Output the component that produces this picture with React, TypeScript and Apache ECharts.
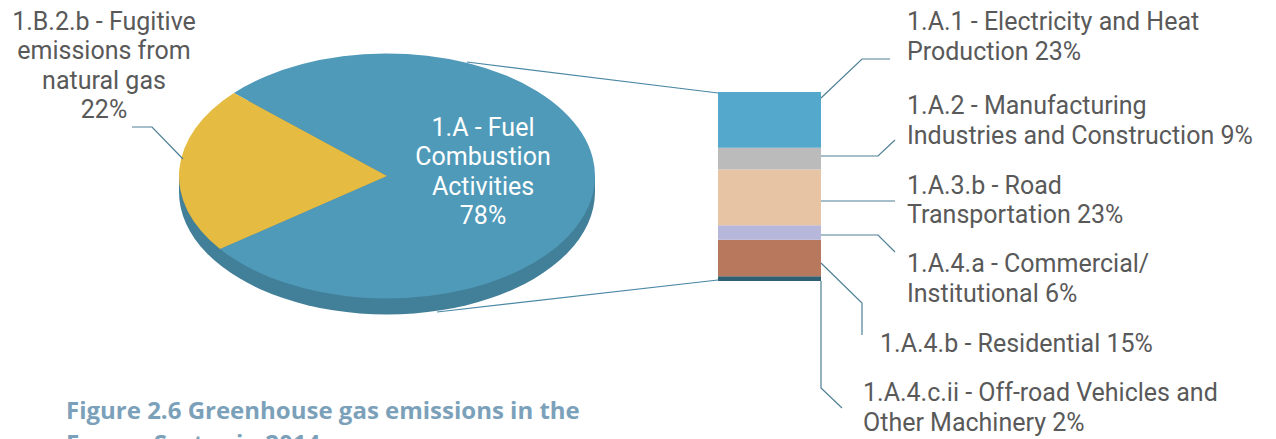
import React, { useEffect, useRef } from "react";
import * as echarts from "echarts";

// Top-level split of energy-sector emissions (pie)
const MAIN_NAMES = ["1.A - Fuel\nCombustion\nActivities", "1.B.2.b - Fugitive\nemissions from\nnatural gas"];
const MAIN_SHARES = [78, 22];
const MAIN_COLORS = ["#4F9AB9", "#E6BB42"];

// Breakdown of 1.A fuel combustion (stacked column), top to bottom
const SUB_NAMES = [
  "1.A.1 - Electricity and Heat\nProduction",
  "1.A.2 - Manufacturing\nIndustries and Construction",
  "1.A.3.b - Road\nTransportation",
  "1.A.4.a - Commercial/\nInstitutional",
  "1.A.4.b - Residential",
  "1.A.4.c.ii - Off-road Vehicles and\nOther Machinery",
];
const SUB_SHARES = [23, 9, 23, 6, 15, 2];
const SUB_COLORS = ["#54A8CC", "#BBBBBB", "#E6C4A4", "#B7B7DC", "#B8785E", "#2F5F72"];

const TITLE = "Figure 2.6 Greenhouse gas emissions in the\nEnergy Sector in 2014";

// pie geometry
const CX = 387;
const CY = 176;
const RX = 208;
const RY = 122.5;
const DEPTH = 16;
const START_DEG = 222.6;
const K = RY / RX;

const FONT = "Roboto, 'Open Sans', sans-serif";
const TITLE_FONT = "'Open Sans', 'Noto Sans', sans-serif";
const TEXT_COLOR = "#595959";
const LEADER = "#4F7F95";

export default function App() {
  const ref = useRef<HTMLDivElement>(null);

  useEffect(() => {
    if (!ref.current) return;
    const chart = echarts.init(ref.current, undefined, { renderer: "svg" });

    const mainTotal = MAIN_SHARES.reduce((a, b) => a + b, 0);
    const subTotal = SUB_SHARES.reduce((a, b) => a + b, 0);

    // stacked from the bottom up
    const order = SUB_SHARES.map((_, i) => SUB_SHARES.length - 1 - i);
    const barSeries = order.map((i) => ({
      type: "bar",
      name: SUB_NAMES[i],
      stack: "combustion",
      data: [SUB_SHARES[i]],
      barWidth: "100%",
      itemStyle: { color: SUB_COLORS[i] },
      silent: true,
    }));

    const pieSeries = {
      type: "custom",
      coordinateSystem: "none",
      silent: true,
      data: MAIN_SHARES.map((v, i) => [i, v]),
      renderItem: (params: any, api: any) => {
        const idx = params.dataIndex;
        const before = MAIN_SHARES.slice(0, idx).reduce((a, b) => a + b, 0);
        const a0 = ((START_DEG + (before / mainTotal) * 360) * Math.PI) / 180;
        const a1 = a0 + ((api.value(1) / mainTotal) * 360 * Math.PI) / 180;
        const children: any[] = [];
        if (idx === 0) {
          // side wall of the disc
          const off = DEPTH / K;
          children.push({
            type: "rect",
            shape: { x: -RX, y: 0, width: 2 * RX, height: off },
            style: { fill: "#427F99" },
          });
          children.push({
            type: "circle",
            shape: { cx: 0, cy: off, r: RX },
            style: { fill: "#427F99" },
          });
        }
        children.push({
          type: "sector",
          shape: { cx: 0, cy: 0, r0: 0, r: RX, startAngle: a0, endAngle: a1, clockwise: true },
          style: { fill: MAIN_COLORS[idx] },
        });
        return { type: "group", x: CX, y: CY, scaleX: 1, scaleY: K, children };
      },
    };

    const text = (x: number, y: number, str: string, extra: any = {}) => ({
      type: "text",
      x,
      y,
      z: 100,
      silent: true,
      style: {
        text: str,
        fontFamily: FONT,
        fontSize: 25,
        lineHeight: 29.5,
        fill: TEXT_COLOR,
        align: "left",
        verticalAlign: "middle",
        ...extra,
      },
    });

    const line = (pts: number[][], color = LEADER) => ({
      type: "polyline",
      z: 100,
      silent: true,
      shape: { points: pts },
      style: { stroke: color, lineWidth: 1.2, fill: null },
    });

    const subLabel = (i: number) => `${SUB_NAMES[i]} ${SUB_SHARES[i]}%`;

    const graphics: any[] = [
      // pie to column connectors
      line([[467, 62], [718, 93]], "#4A88A5"),
      line([[437, 312], [718, 280]], "#4A88A5"),
      // column leaders
      line([[821, 98], [862, 59], [890, 59]]),
      line([[821, 156], [878, 156], [895, 140]]),
      line([[821, 201], [895, 201]]),
      line([[821, 235], [878, 235], [895, 252]]),
      line([[821, 263], [862, 303], [862, 335]]),
      line([[821, 281], [821, 388], [842, 408]]),
      // pie leader
      line([[132, 127], [152, 127], [183, 159]]),
      // labels
      text(907, 36.5, subLabel(0)),
      text(907, 120.5, subLabel(1)),
      text(907, 200, subLabel(2)),
      text(907, 278.5, subLabel(3)),
      text(880, 343, subLabel(4)),
      text(863, 407.5, subLabel(5)),
      text(104, 65.5, `${MAIN_NAMES[1]}\n${MAIN_SHARES[1]}%`, { align: "center" }),
      text(483, 171.5, `${MAIN_NAMES[0]}\n${MAIN_SHARES[0]}%`, { align: "center", fill: "#FFFFFF" }),
      text(66, 393, TITLE, {
        verticalAlign: "top",
        fontFamily: TITLE_FONT,
        fontWeight: "bold",
        fontSize: 24,
        lineHeight: 33,
        fill: "#7BA1BA",
      }),
    ];

    chart.setOption({
      animation: false,
      grid: { left: 718, top: 92, width: 103, height: 189 },
      xAxis: { type: "category", data: ["1.A"], show: false },
      yAxis: { type: "value", min: 0, max: subTotal, show: false },
      series: [pieSeries, ...barSeries],
      graphic: graphics,
    });

    return () => chart.dispose();
  }, []);

  return (
    <div
      ref={ref}
      style={{ position: "absolute", left: 0, top: 0, width: 1276, height: 439, background: "#FFFFFF" }}
    />
  );
}
